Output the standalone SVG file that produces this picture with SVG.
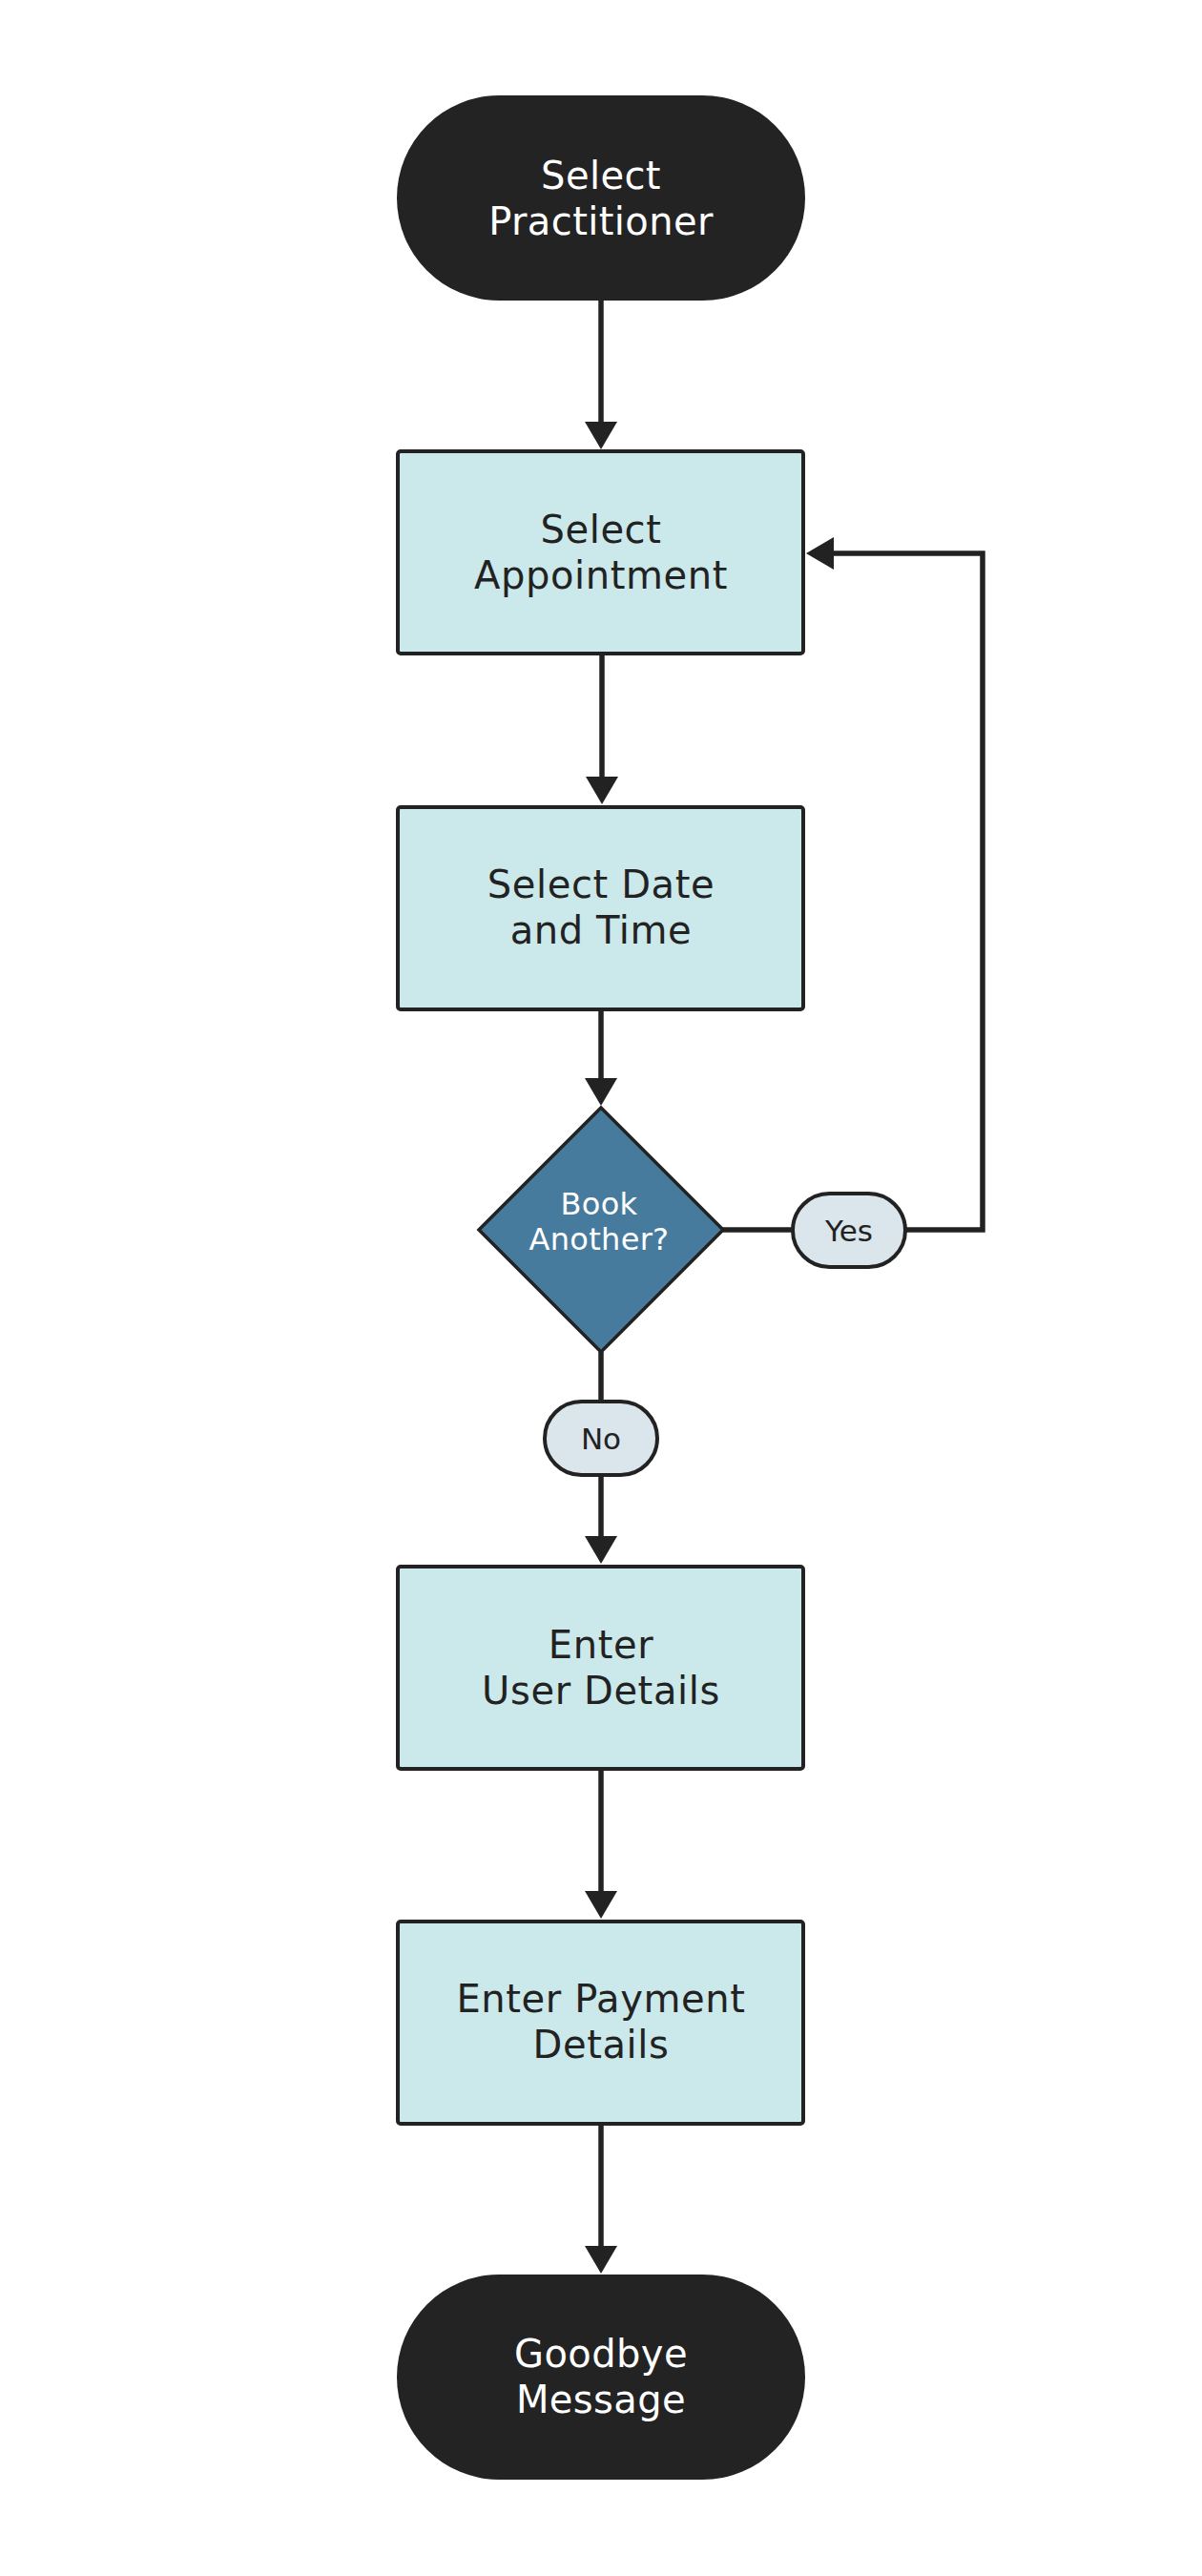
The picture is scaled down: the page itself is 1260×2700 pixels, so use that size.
<svg xmlns="http://www.w3.org/2000/svg" width="1260" height="2700" viewBox="0 0 1260 2700">
<style>
  .terminal { fill: #232323; }
  .process { fill: #cbe8ea; stroke: #222222; stroke-width: 4; }
  .decision { fill: #477b9d; stroke: #222222; stroke-width: 3.5; }
  .edge { fill: none; stroke: #222222; stroke-width: 5.5; }
  .lbl { fill: #dae5ec; stroke: #222222; stroke-width: 4; }
  text { font-family: "DejaVu Sans", "Liberation Sans", sans-serif; text-anchor: middle; }
  .t-dark { fill: #222222; font-size: 40px; letter-spacing: 0.6px; }
  .t-light { fill: #ffffff; font-size: 40px; letter-spacing: 0.4px; }
  .t-dec { fill: #ffffff; font-size: 32px; letter-spacing: 0.3px; }
  .t-lbl { fill: #222222; font-size: 31px; }
</style>
<defs>
  <marker id="arrow" markerUnits="userSpaceOnUse" markerWidth="30" markerHeight="34" refX="19" refY="17" orient="auto">
    <path d="M0,0 L29,17 L0,34 Z" fill="#222222"/>
  </marker>
</defs>
<rect x="0" y="0" width="1260" height="2700" fill="#ffffff"/>

<g id="connectors">
  <line class="edge" x1="630" y1="315" x2="630" y2="461" marker-end="url(#arrow)"/>
  <line class="edge" x1="631" y1="685" x2="631" y2="833" marker-end="url(#arrow)"/>
  <line class="edge" x1="630" y1="1058" x2="630" y2="1149" marker-end="url(#arrow)"/>
  <line class="edge" x1="630" y1="1417" x2="630" y2="1629" marker-end="url(#arrow)"/>
  <line class="edge" x1="630" y1="1854" x2="630" y2="2001" marker-end="url(#arrow)"/>
  <line class="edge" x1="630" y1="2226" x2="630" y2="2373" marker-end="url(#arrow)"/>
  <path class="edge" d="M757,1289 L1030,1289 L1030,580 L855,580" marker-end="url(#arrow)"/>
  <g id="label-yes">
    <rect class="lbl" x="831" y="1251" width="118" height="77" rx="38.5"/>
    <text class="t-lbl" x="890" y="1301">Yes</text>
  </g>
  <g id="label-no">
    <rect class="lbl" x="571" y="1469" width="118" height="77" rx="38.5"/>
    <text class="t-lbl" x="630" y="1519">No</text>
  </g>
</g>

<g id="select-practitioner">
  <rect class="terminal" x="416" y="100" width="428" height="215" rx="107.5"/>
  <text class="t-light" x="630" y="198">Select</text>
  <text class="t-light" x="630" y="246">Practitioner</text>
</g>

<g id="select-appointment">
  <rect class="process" x="417" y="473" width="425" height="212" rx="3"/>
  <text class="t-dark" x="630" y="569">Select</text>
  <text class="t-dark" x="630" y="617">Appointment</text>
</g>

<g id="select-date-time">
  <rect class="process" x="417" y="846" width="425" height="212" rx="3"/>
  <text class="t-dark" x="630" y="941">Select Date</text>
  <text class="t-dark" x="630" y="989">and Time</text>
</g>

<g id="book-another">
  <polygon class="decision" points="630,1161 758,1289 630,1417 502,1289"/>
  <text class="t-dec" x="628" y="1273">Book</text>
  <text class="t-dec" x="628" y="1310">Another?</text>
</g>

<g id="enter-user-details">
  <rect class="process" x="417" y="1642" width="425" height="212" rx="3"/>
  <text class="t-dark" x="630" y="1738">Enter</text>
  <text class="t-dark" x="630" y="1786">User Details</text>
</g>

<g id="enter-payment-details">
  <rect class="process" x="417" y="2014" width="425" height="212" rx="3"/>
  <text class="t-dark" x="630" y="2109">Enter Payment</text>
  <text class="t-dark" x="630" y="2157">Details</text>
</g>

<g id="goodbye-message">
  <rect class="terminal" x="416" y="2384" width="428" height="215" rx="107.5"/>
  <text class="t-light" x="630" y="2481">Goodbye</text>
  <text class="t-light" x="630" y="2529">Message</text>
</g>
</svg>
